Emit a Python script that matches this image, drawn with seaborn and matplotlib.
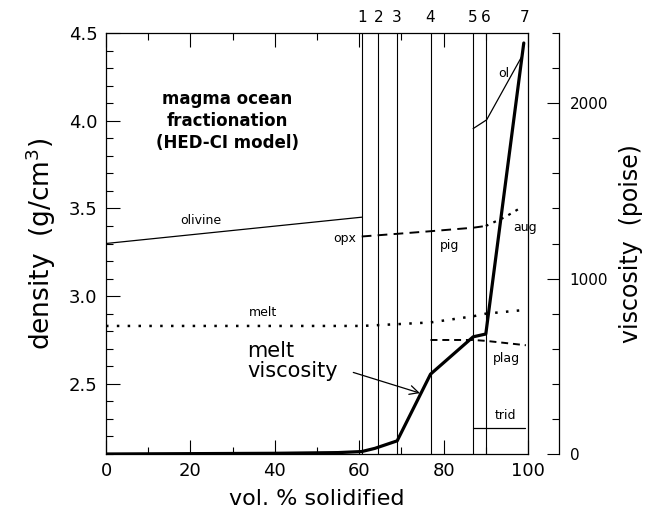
# -*- coding: utf-8 -*-
"""
Magma ocean fractionation (HED-CI model):
density of crystallising phases and melt, plus melt viscosity,
versus vol. % solidified.
"""

import pandas as pd
import matplotlib
matplotlib.use('Agg')
import matplotlib.pyplot as plt
from matplotlib.ticker import MultipleLocator
import seaborn as sns

# ==================== data ====================
olivine_x = [0, 60.6]
olivine_d = [3.30, 3.45]

pig_x = [60.6, 68.9, 76.9, 87.0, 90.0]          # opx -> pig (dashed)
pig_d = [3.34, 3.355, 3.37, 3.39, 3.40]

aug_x = [90.0, 94.5, 98.7]
aug_d = [3.40, 3.45, 3.51]

melt_x = [0, 60.6, 68.9, 76.9, 87.0, 90.0, 98.7]
melt_d = [2.83, 2.83, 2.84, 2.85, 2.885, 2.90, 2.92]

plag_x = [76.9, 87.0, 90.0, 99.5]
plag_d = [2.75, 2.75, 2.745, 2.72]

trid_x = [87.0, 99.3]
trid_d = [2.25, 2.25]

ol_x = [87.0, 90.2, 98.5]
ol_d = [3.955, 4.005, 4.365]

visc_x = [0, 20, 40, 55, 60.6, 63.7, 69.0, 76.9, 87.0, 90.0, 99.0]
visc_v = [0, 2, 4, 8, 14, 32, 75, 455, 668, 684, 2343]

stage_x = [60.6, 64.5, 68.9, 76.9, 87.0, 90.0, 99.3]
stage_lbl = ['1', '2', '3', '4', '5', '6', '7']

# ==================== style ====================
sns.set_theme(style='ticks')
plt.rcParams['font.family'] = ['DejaVu Sans']
plt.rcParams['lines.scale_dashes'] = False
plt.rcParams['text.color'] = 'black'
plt.rcParams['axes.labelcolor'] = 'black'
plt.rcParams['xtick.color'] = 'black'
plt.rcParams['ytick.color'] = 'black'

fig = plt.figure(figsize=(6.46, 5.13), dpi=100)
ax = fig.add_axes([106 / 646, 1 - 454 / 513, (528 - 106) / 646, (454 - 33) / 513])
ax.set_xlim(0, 100)
ax.set_ylim(2.1, 4.5)

def line(x, y, axis=ax, **kw):
    df = pd.DataFrame({'x': x, 'y': y})
    sns.lineplot(data=df, x='x', y='y', ax=axis, color='black',
                 sort=False, estimator=None, legend=False, **kw)

# stage boundaries
for xs, lb in zip(stage_x, stage_lbl):
    if xs < 99:
        ax.axvline(xs, color='black', lw=0.8)
    ax.text(xs, 4.5 + 0.045, lb, ha='center', va='bottom', fontsize=11)

line(olivine_x, olivine_d, lw=0.9)
line(pig_x, pig_d, lw=1.4, linestyle=(0, (7, 4.5)))
line(aug_x, aug_d, lw=1.6, linestyle=(0, (2, 4)))
line(melt_x, melt_d, lw=1.8, linestyle=(0, (1.8, 6)))
line(plag_x, plag_d, lw=1.4, linestyle=(0, (5, 3.5)))
line(trid_x, trid_d, lw=0.9)
line(ol_x, ol_d, lw=0.9)

# labels
ax.text(28.7, 4.0, 'magma ocean\nfractionation\n(HED-CI model)', ha='center', va='center',
        fontsize=12, fontweight='bold', linespacing=1.3)
ax.text(22.5, 3.43, 'olivine', ha='center', va='center', fontsize=9)
ax.text(56.6, 3.33, 'opx', ha='center', va='center', fontsize=9)
ax.text(81.5, 3.29, 'pig', ha='center', va='center', fontsize=9)
ax.text(99.3, 3.39, 'aug', ha='center', va='center', fontsize=9)
ax.text(37.3, 2.905, 'melt', ha='center', va='center', fontsize=9)
ax.text(94.9, 2.645, 'plag', ha='center', va='center', fontsize=9)
ax.text(94.7, 2.317, 'trid', ha='center', va='center', fontsize=9)
ax.text(94.2, 4.27, 'ol', ha='center', va='center', fontsize=9)
ax.text(33.4, 2.63, 'melt\nviscosity', ha='left', va='center', fontsize=15, linespacing=0.95)

ax.set_xlabel('vol. % solidified', fontsize=16, labelpad=6)
ax.set_ylabel('density  (g/cm$^3$)', fontsize=19, labelpad=8)
ax.xaxis.set_major_locator(MultipleLocator(20))
ax.xaxis.set_minor_locator(MultipleLocator(10))
ax.yaxis.set_major_locator(MultipleLocator(0.5))
ax.yaxis.set_minor_locator(MultipleLocator(0.1))
ax.tick_params(which='both', direction='in', top=True, right=False, labelsize=13, width=0.8, color='black')
ax.tick_params(which='major', length=10, pad=6)
ax.tick_params(which='minor', length=5)
for s in ax.spines.values():
    s.set_linewidth(0.9)
    s.set_color('black')

# viscosity axis
ax2 = ax.twinx()
ax2.set_ylim(0, 2400)
line(visc_x, visc_v, axis=ax2, lw=2.3)
ax2.annotate('', xy=(74.4, 347), xytext=(58.6, 2.565), textcoords=ax.transData,
             arrowprops=dict(arrowstyle='->', lw=0.9, color='black',
                             mutation_scale=16, shrinkA=0, shrinkB=0))
for k in ['top', 'left', 'bottom']:
    ax2.spines[k].set_visible(False)
ax2.spines['right'].set_position(('outward', 22))
ax2.spines['right'].set_linewidth(0.9)
ax2.spines['right'].set_color('black')
ax2.yaxis.set_major_locator(MultipleLocator(1000))
ax2.yaxis.set_minor_locator(MultipleLocator(200))
ax2.tick_params(which='both', direction='in', labelsize=11, width=0.8, color='black')
ax2.tick_params(which='major', length=9, pad=8)
ax2.tick_params(which='minor', length=5)
ax2.set_ylabel('viscosity  (poise)', fontsize=17, labelpad=8)
ax2.set_xlabel('')

fig.savefig('out.png', dpi=100)
